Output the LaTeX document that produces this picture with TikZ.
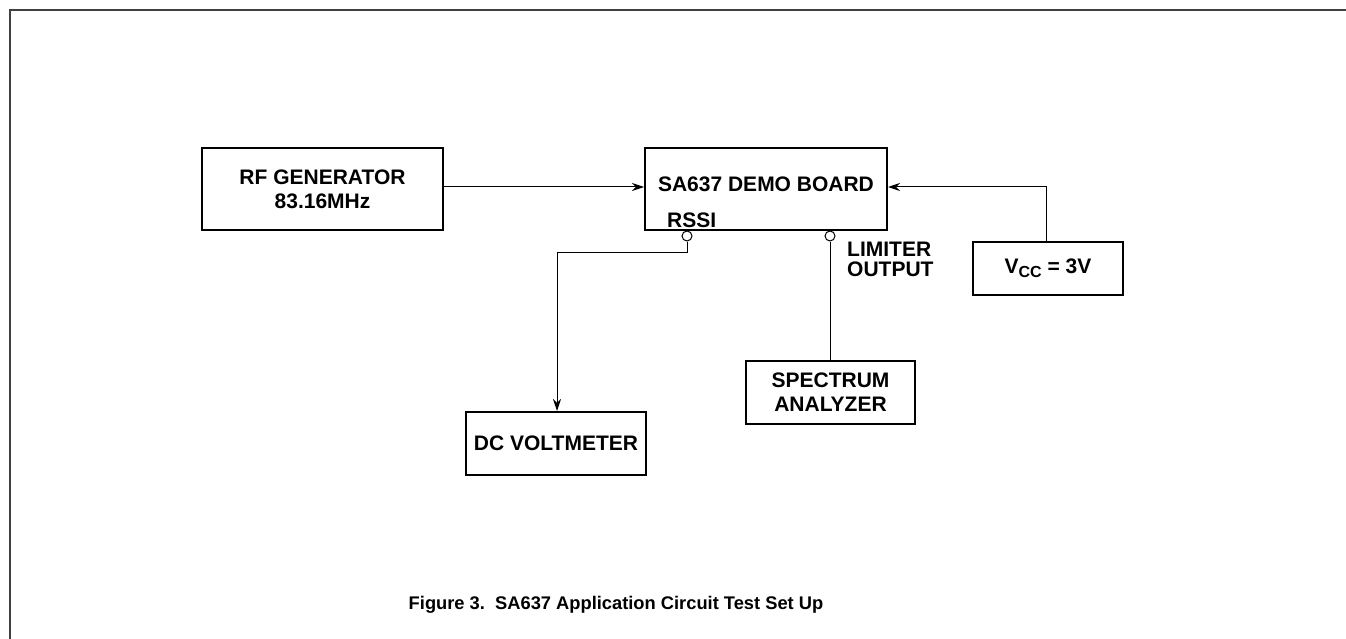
\documentclass[tikz,border=0pt]{standalone}
\usepackage{fontspec}
\setmainfont{Liberation Sans}
\usetikzlibrary{arrows.meta}
\begin{document}
\begin{tikzpicture}[x=1pt,y=-1pt,
	blk/.style={draw,line width=2pt,inner sep=0pt,font=\fontsize{21}{24}\selectfont\bfseries,align=center},
	lbl/.style={inner sep=0pt,font=\fontsize{21}{20}\selectfont\bfseries,align=left},
	wire/.style={line width=1pt},
	pin/.style={draw,circle,line width=1pt,fill=white,inner sep=0pt,minimum size=10pt},
	>={Stealth[length=12pt,width=8pt]}]
	\useasboundingbox (0,0) rectangle (1346,639);
	\draw[line width=2pt,black!75] (1346,10) -- (10,10) -- (10,639);
	\node[blk,minimum width=241pt,minimum height=82pt] (rf) at (322.5,189) {RF GENERATOR\\83.16MHz};
	\node[blk,minimum width=242pt,minimum height=82pt] (board) at (766,189) {};
	\node[lbl] (name) at (766,184) {SA637 DEMO BOARD};
	\node[lbl,anchor=west] (rssi) at (667,220) {RSSI};
	\node[blk,minimum width=150pt,minimum height=53pt] (vcc) at (1048,268.5) {V\raisebox{-4pt}{\fontsize{16}{16}\selectfont CC} = 3V};
	\node[blk,minimum width=180pt,minimum height=63pt] (dcv) at (556,443.5) {DC VOLTMETER};
	\node[blk,minimum width=169pt,minimum height=63pt] (spec) at (830.5,392.5) {SPECTRUM\\ANALYZER};
	\node[pin] (p1) at (687,236) {};
	\node[pin] (p2) at (830,236) {};
	\node[lbl,anchor=west] (lim) at (847,259) {LIMITER\\OUTPUT};
	\coordinate (c1) at (1046,187);
	\coordinate (c2) at (687,252);
	\coordinate (c3) at (557,252);
	\draw[wire,->] (rf.east |- 0,187) -- (board.west |- 0,187);
	\draw[wire,->] (vcc.north -| c1) -- (c1) -- (board.east |- c1);
	\draw[wire,->] (p1) -- (c2) -- (c3) -- (dcv.north -| c3);
	\draw[wire] (p2) -- (spec.north -| p2);
	\node[inner sep=0pt,font=\fontsize{18.3}{20}\selectfont\bfseries] (cap) at (616,605) {Figure 3.\ \ SA637 Application Circuit Test Set Up};
\end{tikzpicture}
\end{document}
